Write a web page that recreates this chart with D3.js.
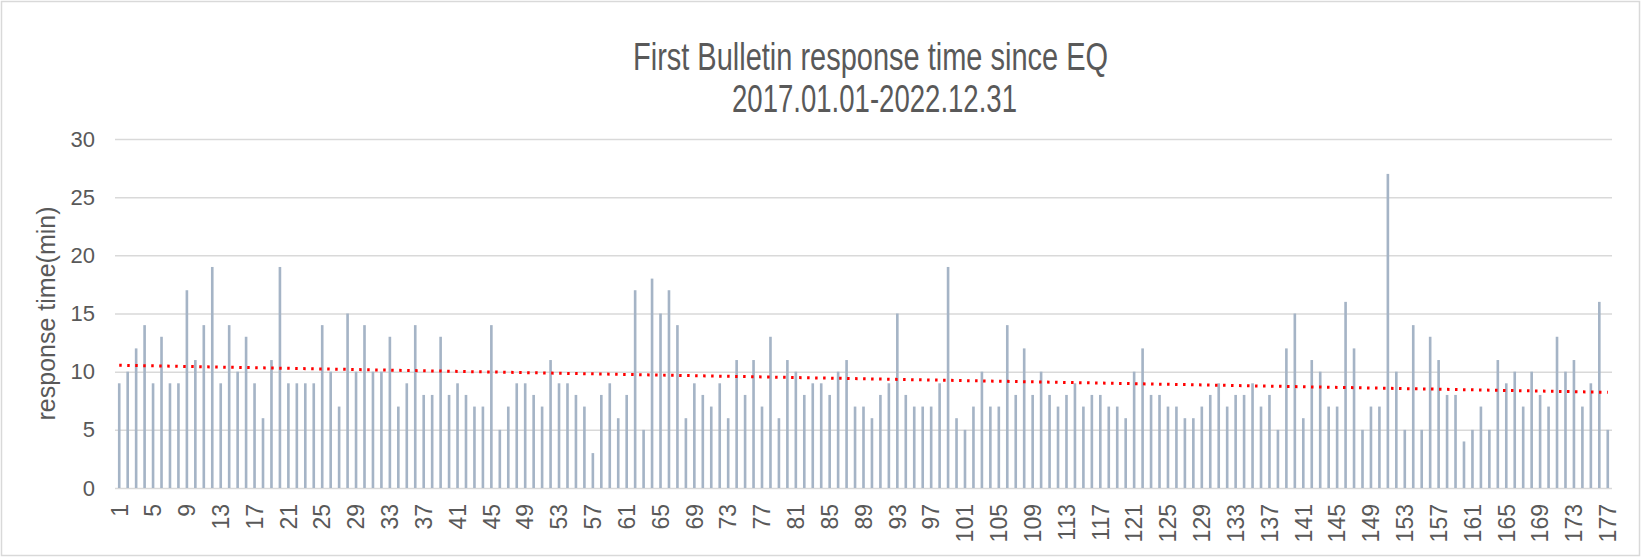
<!DOCTYPE html>
<html>
<head>
<meta charset="utf-8">
<script src="https://cdn.jsdelivr.net/npm/d3@7"></script>
<style>
	body { margin: 0; background: #fff; }
	text { font-family: "Liberation Sans", Arial, sans-serif; fill: #595959; }
</style>
</head>
<body>
<div class="container"></div>
<script>

// response time (min) of each bulletin, 1..177
var times = [
	9, 10, 12, 14, 9, 13, 9, 9, 17, 11,
	14, 19, 9, 14, 10, 13, 9, 6, 11, 19,
	9, 9, 9, 9, 14, 10, 7, 15, 10, 14,
	10, 10, 13, 7, 9, 14, 8, 8, 13, 8,
	9, 8, 7, 7, 14, 5, 7, 9, 9, 8,
	7, 11, 9, 9, 8, 7, 3, 8, 9, 6,
	8, 17, 5, 18, 15, 17, 14, 6, 9, 8,
	7, 9, 6, 11, 8, 11, 7, 13, 6, 11,
	10, 8, 9, 9, 8, 10, 11, 7, 7, 6,
	8, 9, 15, 8, 7, 7, 7, 9, 19, 6,
	5, 7, 10, 7, 7, 14, 8, 12, 8, 10,
	8, 7, 8, 9, 7, 8, 8, 7, 7, 6,
	10, 12, 8, 8, 7, 7, 6, 6, 7, 8,
	9, 7, 8, 8, 9, 7, 8, 5, 12, 15,
	6, 11, 10, 7, 7, 16, 12, 5, 7, 7,
	27, 10, 5, 14, 5, 13, 11, 8, 8, 4,
	5, 7, 5, 11, 9, 10, 7, 10, 8, 7,
	13, 10, 11, 7, 9, 16, 5
];
var ids = times.map(function (d, i) { return i + 1; });
var yTicks = [0, 5, 10, 15, 20, 25, 30];
var titleLines = ["First Bulletin response time since EQ", "2017.01.01-2022.12.31"];
var yLabel = "response time(min)";

var W = 1645, H = 558;
var plotL = 115, plotR = 1612, plotT = 139, plotB = 488;

function makeStage(w, h) {
	var stage = d3.select(".container")
				  .insert("svg")
				  .attr("width", w)
				  .attr("height", h);
	return stage;
}

var stage = makeStage(W, H);

// chart border
stage.append("rect")
	 .attr("x", 1.5).attr("y", 1.5)
	 .attr("width", 1638).attr("height", 554)
	 .style("fill", "none")
	 .style("stroke", "#d9d9d9")
	 .style("stroke-width", "1.5px");

var x = d3.scaleBand()
		  .domain(ids)
		  .range([plotL, plotR])
		  .paddingInner(0.69)
		  .paddingOuter(0.345);

var y = d3.scaleLinear()
		  .domain([0, 30])
		  .range([plotB, plotT]);

// gridlines + y labels
var yAxis = stage.append("g")
				 .attr("transform", "translate(" + plotL + ",0)")
				 .call(d3.axisLeft(y).tickValues(yTicks).tickSize(-(plotR - plotL)).tickPadding(20));
yAxis.select(".domain").remove();
yAxis.selectAll(".tick line").style("stroke", "#d9d9d9").style("stroke-width", "1.5px");
yAxis.selectAll(".tick text")
	 .style("font-size", "22px")
	 .style("font-family", "'Liberation Sans', Arial, sans-serif")
	 .style("fill", "#595959");

// bars
stage.append("g")
	 .selectAll("rect")
	 .data(times)
	 .enter()
	 .append("rect")
	 .attr("x", function (d, i) { return x(ids[i]); })
	 .attr("y", function (d) { return y(d); })
	 .attr("width", x.bandwidth())
	 .attr("height", function (d) { return y(0) - y(d); })
	 .style("fill", "#a5b4c6");

// x labels, every 4th
var xAxis = stage.append("g")
				 .attr("transform", "translate(0," + plotB + ")")
				 .call(d3.axisBottom(x).tickValues(ids.filter(function (d) { return (d - 1) % 4 == 0; })).tickSize(0));
xAxis.select(".domain").remove();
xAxis.selectAll(".tick text")
	 .attr("transform", "rotate(-90)")
	 .attr("x", -16)
	 .attr("y", 0)
	 .attr("dy", "0.36em")
	 .style("text-anchor", "end")
	 .style("font-size", "23px")
	 .style("font-family", "'Liberation Sans', Arial, sans-serif")
	 .style("fill", "#595959");

// linear trendline (least squares)
var n = times.length;
var mx = d3.mean(ids), my = d3.mean(times);
var sxy = d3.sum(ids, function (d, i) { return (d - mx) * (times[i] - my); });
var sxx = d3.sum(ids, function (d) { return (d - mx) * (d - mx); });
var slope = sxy / sxx, icpt = my - slope * mx;
var cx = function (d) { return x(d) + x.bandwidth() / 2; };

stage.append("line")
	 .attr("x1", cx(ids[0]))
	 .attr("y1", y(icpt + slope * ids[0]))
	 .attr("x2", cx(ids[n - 1]))
	 .attr("y2", y(icpt + slope * ids[n - 1]))
	 .style("stroke", "#ff0000")
	 .style("stroke-width", "3px")
	 .style("stroke-dasharray", "2.5,5.5");

// title
stage.append("g")
	 .selectAll("text")
	 .data(titleLines)
	 .enter()
	 .append("text")
	 .attr("x", function (d, i) { return i == 0 ? 633 : 732; })
	 .attr("y", function (d, i) { return 70 + i * 42; })
	 .attr("textLength", function (d, i) { return i == 0 ? 475 : 285; })
	 .attr("lengthAdjust", "spacingAndGlyphs")
	 .style("font-size", "39px")
	 .text(function (d) { return d; });

// y axis title
stage.append("text")
	 .attr("transform", "translate(55," + ((plotT + plotB) / 2) + ") rotate(-90)")
	 .style("text-anchor", "middle")
	 .style("font-size", "25px")
	 .text(yLabel);

</script>
</body>
</html>
